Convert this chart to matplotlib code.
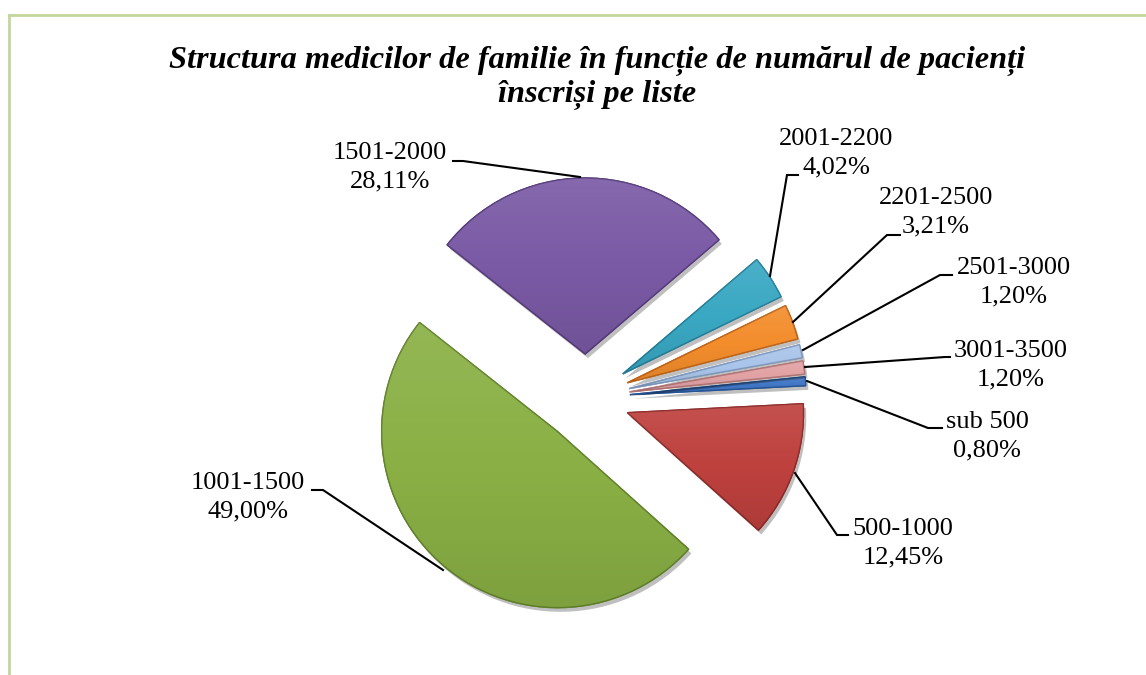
import numpy as np
import matplotlib.pyplot as plt
import matplotlib.patheffects as pe
from matplotlib.lines import Line2D

# -----------------------------
# DATA
# -----------------------------
categories = ["sub 500", "500-1000", "1001-1500", "1501-2000",
              "2001-2200", "2201-2500", "2501-3000", "3001-3500"]
percentages = [0.80, 12.45, 49.00, 28.11, 4.02, 3.21, 1.20, 1.20]

colors = ["#3F76C4", "#BE413E", "#8AB045", "#7A5AA5",
          "#3AA8C3", "#F38D2C", "#A9C4EA", "#E2A2A4"]
edge_colors = ["#2A5595", "#8E2B29", "#63832C", "#563C7C",
               "#25809A", "#C0661A", "#7F98BC", "#B07577"]

title = "Structura medicilor de familie în funcție de numărul de pacienți\nînscriși pe liste"

W, H = 1146, 675


def Y(y):
    # image rows -> axes y (origin at bottom)
    return H - y


# label centres and leader lines, in image pixels
label_pos = {
    "sub 500": (987, 436),
    "500-1000": (903, 543),
    "1001-1500": (248, 497),
    "1501-2000": (390, 167),
    "2001-2200": (836, 153),
    "2201-2500": (936, 212),
    "2501-3000": (1014, 282),
    "3001-3500": (1011, 365),
}
leaders = {
    "sub 500": [(807, 381), (928, 428), (942, 428)],
    "500-1000": [(795, 473), (837, 535), (848, 535)],
    "1001-1500": [(312, 490), (323, 490), (443, 570)],
    "1501-2000": [(453, 161), (463, 161), (580, 177)],
    "2001-2200": [(798, 175), (787, 175), (770, 276)],
    "2201-2500": [(900, 235), (887, 235), (793, 322)],
    "2501-3000": [(952, 275), (940, 275), (803, 350)],
    "3001-3500": [(805, 367), (945, 357), (950, 357)],
}

# -----------------------------
# FIGURE
# -----------------------------
fig = plt.figure(figsize=(W / 100, H / 100), dpi=100)
fig.patch.set_facecolor("white")
ax = fig.add_axes([0, 0, 1, 1])

# explode is in data units here (radius is 176 px)
wedges, _ = ax.pie(
    percentages,
    explode=[44] * len(percentages),
    radius=176,
    center=(586, Y(398)),
    startangle=5.8,
    counterclock=False,
    colors=colors,
    wedgeprops=dict(linewidth=1.0),
)
for w, ec in zip(wedges, edge_colors):
    w.set_edgecolor(ec)
    w.set_path_effects([pe.withSimplePatchShadow(offset=(2, -3), shadow_rgbFace="#000000", alpha=0.25),
                        pe.Normal()])

# soft light-to-dark gradient on each slice (clipped to the slice)
t = np.linspace(0, 1, 64)[:, None, None]
grad = np.zeros((64, 2, 4))
grad[..., :3] = np.where(t < 0.5, 1.0, 0.0)
grad[..., 3] = (np.abs(0.5 - t) * 0.18)[..., 0]
for w in wedges:
    bb = w.get_path().get_extents(w.get_patch_transform())
    im = ax.imshow(grad, extent=(bb.x0, bb.x1, bb.y0, bb.y1), origin="upper",
                   interpolation="bilinear", zorder=w.get_zorder() + 0.1)
    im.set_clip_path(w)

ax.set_xlim(0, W)
ax.set_ylim(0, H)
ax.set_aspect("equal")
ax.axis("off")

# labels + leader lines
for cat, val in zip(categories, percentages):
    x, y = label_pos[cat]
    txt = cat + "\n" + f"{val:.2f}%".replace(".", ",")
    ax.text(x, Y(y), txt, ha="center", va="center", fontsize=19,
            family="Liberation Serif", linespacing=1.35, color="black")
    pts = leaders[cat]
    ax.plot([p[0] for p in pts], [Y(p[1]) for p in pts], color="black", lw=1.5,
            solid_joinstyle="miter")

# title
ax.text(597, Y(78), title, ha="center", va="center", fontsize=23.3,
        family="Liberation Serif", fontweight="bold", fontstyle="italic",
        linespacing=1.15)

# chart area border (top and left visible)
fig.add_artist(Line2D([9 / W, 1], [1 - 15 / H, 1 - 15 / H], transform=fig.transFigure,
                      color="#C3D69B", lw=2))
fig.add_artist(Line2D([9 / W, 9 / W], [0, 1 - 15 / H], transform=fig.transFigure,
                      color="#C3D69B", lw=2))

fig.savefig("out.png", dpi=100)
